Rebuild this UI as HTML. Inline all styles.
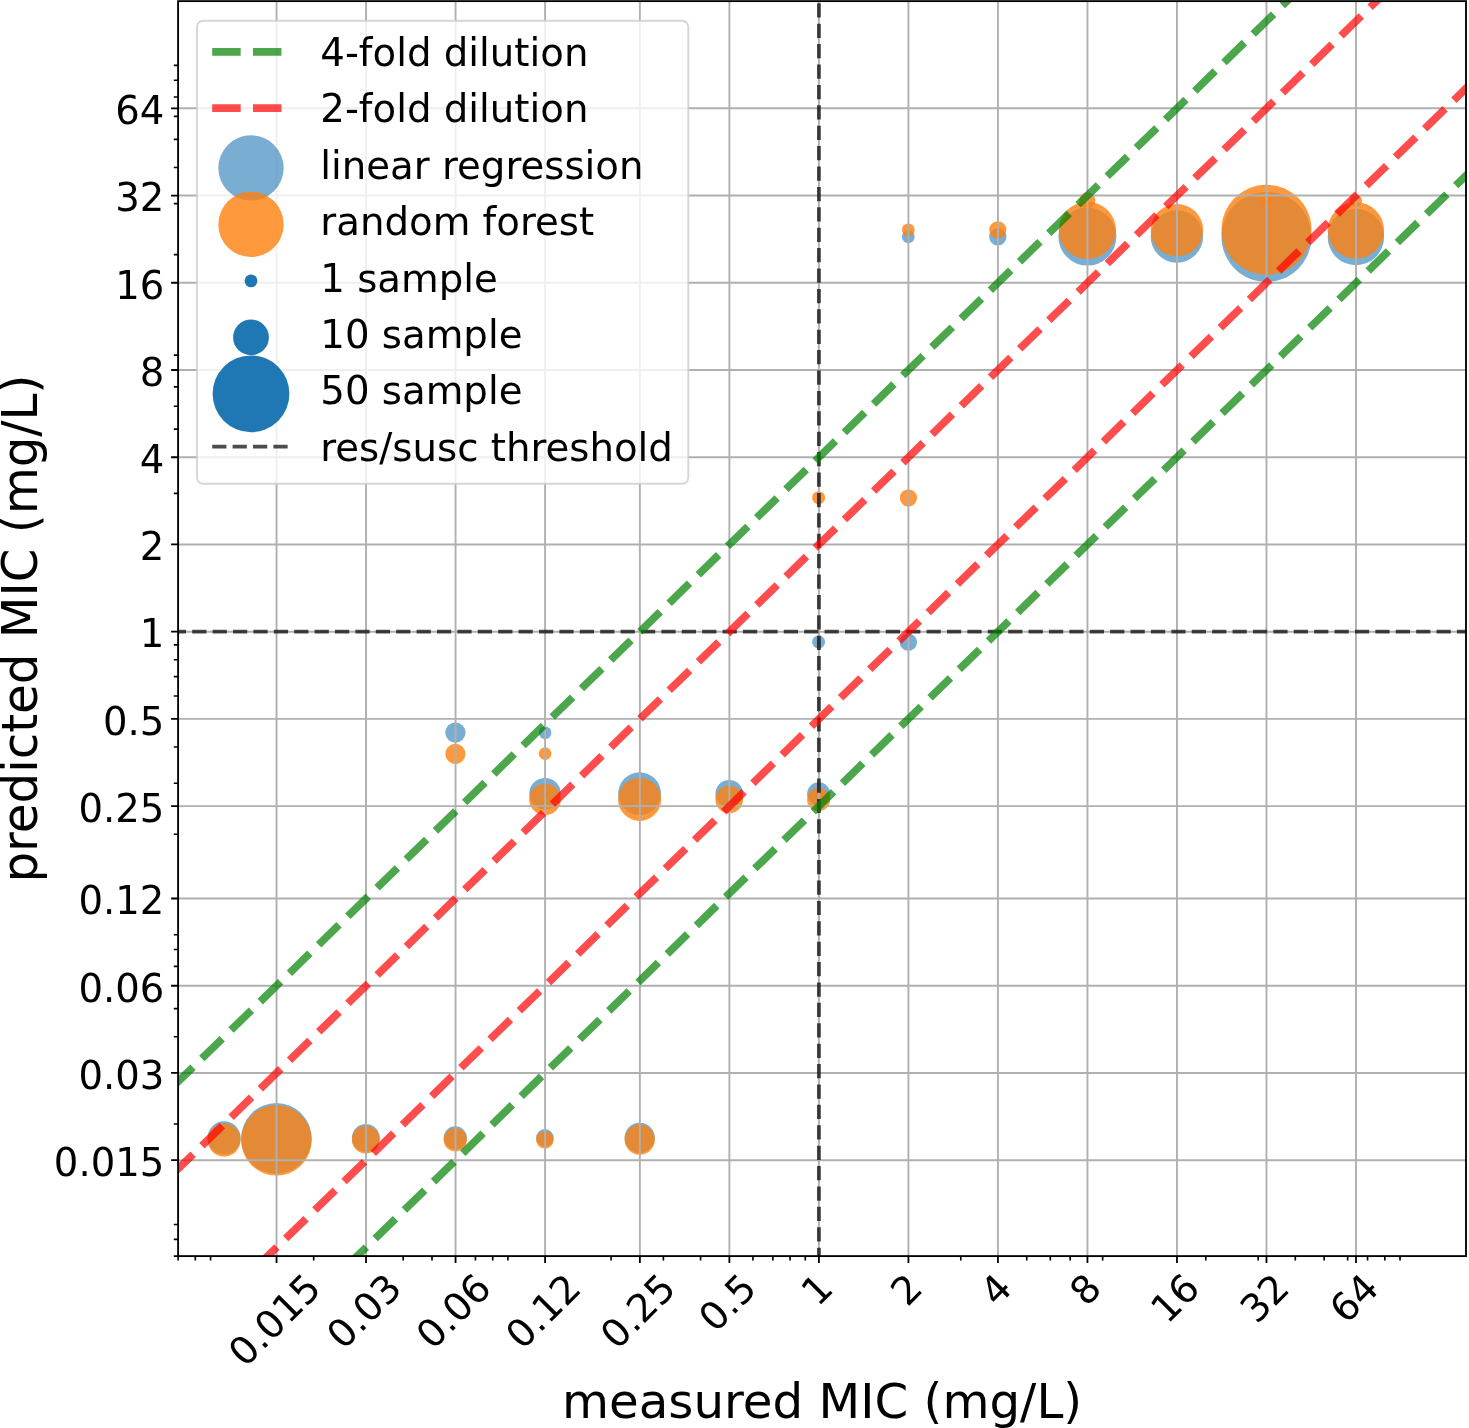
<!DOCTYPE html>
<html><head><meta charset="utf-8"><title>predicted vs measured MIC</title>
<style>
html,body{margin:0;padding:0;background:#fff;}
svg{display:block}
text{font-family:"DejaVu Sans","Liberation Sans",sans-serif;fill:#000}
</style></head><body>
<svg width="1469" height="1428" viewBox="0 0 1469 1428">
<rect width="1469" height="1428" fill="#fff"/>
<defs><clipPath id="ax"><rect x="178.1" y="1.13" width="1287.9" height="1254.9699999999998"/></clipPath></defs>

<g clip-path="url(#ax)">
<circle cx="224.10" cy="1137.80" r="16.50" fill="#1f77b4" fill-opacity="0.6"/>
<circle cx="276.40" cy="1138.40" r="35.30" fill="#1f77b4" fill-opacity="0.6"/>
<circle cx="365.80" cy="1137.90" r="13.90" fill="#1f77b4" fill-opacity="0.6"/>
<circle cx="455.30" cy="1137.90" r="11.60" fill="#1f77b4" fill-opacity="0.6"/>
<circle cx="544.90" cy="1137.90" r="8.80" fill="#1f77b4" fill-opacity="0.6"/>
<circle cx="639.70" cy="1137.90" r="15.10" fill="#1f77b4" fill-opacity="0.6"/>
<circle cx="545.00" cy="793.70" r="15.75" fill="#1f77b4" fill-opacity="0.6"/>
<circle cx="639.60" cy="793.70" r="21.40" fill="#1f77b4" fill-opacity="0.6"/>
<circle cx="729.20" cy="793.80" r="13.80" fill="#1f77b4" fill-opacity="0.6"/>
<circle cx="818.60" cy="793.80" r="11.50" fill="#1f77b4" fill-opacity="0.6"/>
<circle cx="455.40" cy="732.60" r="10.20" fill="#1f77b4" fill-opacity="0.6"/>
<circle cx="545.10" cy="732.70" r="6.30" fill="#1f77b4" fill-opacity="0.6"/>
<circle cx="818.60" cy="641.90" r="6.50" fill="#1f77b4" fill-opacity="0.6"/>
<circle cx="908.40" cy="642.20" r="8.60" fill="#1f77b4" fill-opacity="0.6"/>
<circle cx="908.30" cy="236.70" r="6.40" fill="#1f77b4" fill-opacity="0.6"/>
<circle cx="997.80" cy="236.80" r="8.60" fill="#1f77b4" fill-opacity="0.6"/>
<circle cx="1087.40" cy="236.60" r="29.00" fill="#1f77b4" fill-opacity="0.6"/>
<circle cx="1176.90" cy="236.50" r="26.20" fill="#1f77b4" fill-opacity="0.6"/>
<circle cx="1266.50" cy="236.90" r="45.00" fill="#1f77b4" fill-opacity="0.6"/>
<circle cx="1355.90" cy="237.00" r="28.20" fill="#1f77b4" fill-opacity="0.6"/>
<circle cx="224.10" cy="1140.00" r="16.50" fill="#ff7f0e" fill-opacity="0.8"/>
<circle cx="276.40" cy="1140.35" r="35.25" fill="#ff7f0e" fill-opacity="0.8"/>
<circle cx="365.80" cy="1139.70" r="13.90" fill="#ff7f0e" fill-opacity="0.8"/>
<circle cx="455.30" cy="1139.70" r="11.60" fill="#ff7f0e" fill-opacity="0.8"/>
<circle cx="544.90" cy="1139.70" r="8.80" fill="#ff7f0e" fill-opacity="0.8"/>
<circle cx="639.70" cy="1139.60" r="15.10" fill="#ff7f0e" fill-opacity="0.8"/>
<circle cx="545.00" cy="799.40" r="15.75" fill="#ff7f0e" fill-opacity="0.8"/>
<circle cx="639.60" cy="799.40" r="21.50" fill="#ff7f0e" fill-opacity="0.8"/>
<circle cx="729.20" cy="799.60" r="13.80" fill="#ff7f0e" fill-opacity="0.8"/>
<circle cx="818.60" cy="799.60" r="11.50" fill="#ff7f0e" fill-opacity="0.8"/>
<circle cx="455.40" cy="753.80" r="10.10" fill="#ff7f0e" fill-opacity="0.8"/>
<circle cx="545.10" cy="753.60" r="6.30" fill="#ff7f0e" fill-opacity="0.8"/>
<circle cx="818.60" cy="497.70" r="6.50" fill="#ff7f0e" fill-opacity="0.8"/>
<circle cx="908.40" cy="497.80" r="8.60" fill="#ff7f0e" fill-opacity="0.8"/>
<circle cx="908.30" cy="229.80" r="6.40" fill="#ff7f0e" fill-opacity="0.8"/>
<circle cx="997.80" cy="229.80" r="8.60" fill="#ff7f0e" fill-opacity="0.8"/>
<circle cx="1087.40" cy="230.30" r="28.60" fill="#ff7f0e" fill-opacity="0.8"/>
<circle cx="1176.90" cy="230.10" r="26.20" fill="#ff7f0e" fill-opacity="0.8"/>
<circle cx="1266.50" cy="229.80" r="45.00" fill="#ff7f0e" fill-opacity="0.8"/>
<circle cx="1355.90" cy="230.40" r="28.20" fill="#ff7f0e" fill-opacity="0.8"/>
<circle cx="1087.30" cy="200.40" r="8.10" fill="#ff7f0e" fill-opacity="0.8"/>
<circle cx="1266.40" cy="201.00" r="5.50" fill="#ff7f0e" fill-opacity="0.8"/>
<circle cx="1355.90" cy="200.80" r="6.10" fill="#ff7f0e" fill-opacity="0.8"/>
<path d="M276.53 1.13V1256.1 M178.1 1160.19H1466.0 M366.04 1.13V1256.1 M178.1 1072.96H1466.0 M455.56 1.13V1256.1 M178.1 985.73H1466.0 M545.08 1.13V1256.1 M178.1 898.51H1466.0 M639.87 1.13V1256.1 M178.1 806.14H1466.0 M729.38 1.13V1256.1 M178.1 718.91H1466.0 M818.90 1.13V1256.1 M178.1 631.68H1466.0 M908.42 1.13V1256.1 M178.1 544.46H1466.0 M997.93 1.13V1256.1 M178.1 457.23H1466.0 M1087.45 1.13V1256.1 M178.1 370.00H1466.0 M1176.97 1.13V1256.1 M178.1 282.77H1466.0 M1266.48 1.13V1256.1 M178.1 195.55H1466.0 M1356.00 1.13V1256.1 M178.1 108.32H1466.0" stroke="#b0b0b0" stroke-width="1.90" fill="none"/>
<line x1="151.40" y1="631.68" x2="1471.0" y2="631.68" stroke="#000" stroke-opacity="0.7" stroke-width="3.849" stroke-dasharray="14.241 6.158"/>
<line x1="818.90" y1="1261.90" x2="818.90" y2="-3.87" stroke="#000" stroke-opacity="0.7" stroke-width="3.849" stroke-dasharray="14.241 6.158"/>
<line x1="-411.50" y1="1656.17" x2="2216.99" y2="-905.11" stroke="#008000" stroke-opacity="0.7" stroke-width="7.694" stroke-dasharray="28.468 12.310"/>
<line x1="-33.72" y1="1636.96" x2="2594.77" y2="-924.32" stroke="#008000" stroke-opacity="0.7" stroke-width="7.694" stroke-dasharray="28.468 12.310"/>
<line x1="-352.97" y1="1686.37" x2="2275.52" y2="-874.92" stroke="#ff0000" stroke-opacity="0.7" stroke-width="7.694" stroke-dasharray="28.468 12.310"/>
<line x1="-123.21" y1="1636.94" x2="2505.28" y2="-924.35" stroke="#ff0000" stroke-opacity="0.7" stroke-width="7.694" stroke-dasharray="28.468 12.310"/>
</g>
<rect x="178.1" y="1.13" width="1287.9" height="1254.9699999999998" fill="none" stroke="#000" stroke-width="1.85"/>
<path d="M276.53 1256.1v7.00 M178.1 1160.19h-7.00 M366.04 1256.1v7.00 M178.1 1072.96h-7.00 M455.56 1256.1v7.00 M178.1 985.73h-7.00 M545.08 1256.1v7.00 M178.1 898.51h-7.00 M639.87 1256.1v7.00 M178.1 806.14h-7.00 M729.38 1256.1v7.00 M178.1 718.91h-7.00 M818.90 1256.1v7.00 M178.1 631.68h-7.00 M908.42 1256.1v7.00 M178.1 544.46h-7.00 M997.93 1256.1v7.00 M178.1 457.23h-7.00 M1087.45 1256.1v7.00 M178.1 370.00h-7.00 M1176.97 1256.1v7.00 M178.1 282.77h-7.00 M1266.48 1256.1v7.00 M178.1 195.55h-7.00 M1356.00 1256.1v7.00 M178.1 108.32h-7.00" stroke="#000" stroke-width="1.8" fill="none"/>
<path d="M178.10 1256.1v4.30 M178.1 1256.10h-4.30 M195.34 1256.1v4.30 M178.1 1239.30h-4.30 M210.56 1256.1v4.30 M178.1 1224.47h-4.30 M313.68 1256.1v4.30 M178.1 1123.99h-4.30 M403.20 1256.1v4.30 M178.1 1036.76h-4.30 M432.01 1256.1v4.30 M178.1 1008.68h-4.30 M475.47 1256.1v4.30 M178.1 966.34h-4.30 M492.71 1256.1v4.30 M178.1 949.53h-4.30 M507.92 1256.1v4.30 M178.1 934.71h-4.30 M611.05 1256.1v4.30 M178.1 834.22h-4.30 M663.41 1256.1v4.30 M178.1 783.20h-4.30 M700.56 1256.1v4.30 M178.1 746.99h-4.30 M752.93 1256.1v4.30 M178.1 695.97h-4.30 M772.84 1256.1v4.30 M178.1 676.57h-4.30 M790.08 1256.1v4.30 M178.1 659.77h-4.30 M805.29 1256.1v4.30 M178.1 644.94h-4.30 M960.78 1256.1v4.30 M178.1 493.43h-4.30 M1026.75 1256.1v4.30 M178.1 429.15h-4.30 M1050.30 1256.1v4.30 M178.1 406.20h-4.30 M1070.20 1256.1v4.30 M178.1 386.81h-4.30 M1102.66 1256.1v4.30 M178.1 355.18h-4.30 M1205.78 1256.1v4.30 M178.1 254.69h-4.30 M1258.15 1256.1v4.30 M178.1 203.67h-4.30 M1295.30 1256.1v4.30 M178.1 167.46h-4.30 M1324.12 1256.1v4.30 M178.1 139.38h-4.30 M1347.67 1256.1v4.30 M178.1 116.44h-4.30 M1367.57 1256.1v4.30 M178.1 97.04h-4.30 M1384.82 1256.1v4.30 M178.1 80.24h-4.30 M1400.03 1256.1v4.30 M178.1 65.41h-4.30" stroke="#000" stroke-width="1.65" fill="none"/>
<text x="164.3" y="1175.99" font-size="38.6" text-anchor="end">0.015</text>
<text x="164.3" y="1088.76" font-size="38.6" text-anchor="end">0.03</text>
<text x="164.3" y="1001.53" font-size="38.6" text-anchor="end">0.06</text>
<text x="164.3" y="914.31" font-size="38.6" text-anchor="end">0.12</text>
<text x="164.3" y="821.94" font-size="38.6" text-anchor="end">0.25</text>
<text x="164.3" y="734.71" font-size="38.6" text-anchor="end">0.5</text>
<text x="164.3" y="647.48" font-size="38.6" text-anchor="end">1</text>
<text x="164.3" y="560.26" font-size="38.6" text-anchor="end">2</text>
<text x="164.3" y="473.03" font-size="38.6" text-anchor="end">4</text>
<text x="164.3" y="385.80" font-size="38.6" text-anchor="end">8</text>
<text x="164.3" y="298.57" font-size="38.6" text-anchor="end">16</text>
<text x="164.3" y="211.35" font-size="38.6" text-anchor="end">32</text>
<text x="164.3" y="124.12" font-size="38.6" text-anchor="end">64</text>
<text transform="translate(276.53,1321.88) rotate(-45)" x="0" y="10.65" font-size="38.6" text-anchor="middle">0.015</text>
<text transform="translate(366.04,1313.20) rotate(-45)" x="0" y="10.65" font-size="38.6" text-anchor="middle">0.03</text>
<text transform="translate(455.56,1313.20) rotate(-45)" x="0" y="10.65" font-size="38.6" text-anchor="middle">0.06</text>
<text transform="translate(545.08,1313.20) rotate(-45)" x="0" y="10.65" font-size="38.6" text-anchor="middle">0.12</text>
<text transform="translate(639.87,1313.20) rotate(-45)" x="0" y="10.65" font-size="38.6" text-anchor="middle">0.25</text>
<text transform="translate(729.38,1304.51) rotate(-45)" x="0" y="10.65" font-size="38.6" text-anchor="middle">0.5</text>
<text transform="translate(818.90,1291.49) rotate(-45)" x="0" y="10.65" font-size="38.6" text-anchor="middle">1</text>
<text transform="translate(908.42,1291.49) rotate(-45)" x="0" y="10.65" font-size="38.6" text-anchor="middle">2</text>
<text transform="translate(997.93,1291.49) rotate(-45)" x="0" y="10.65" font-size="38.6" text-anchor="middle">4</text>
<text transform="translate(1087.45,1291.49) rotate(-45)" x="0" y="10.65" font-size="38.6" text-anchor="middle">8</text>
<text transform="translate(1176.97,1300.18) rotate(-45)" x="0" y="10.65" font-size="38.6" text-anchor="middle">16</text>
<text transform="translate(1266.48,1300.18) rotate(-45)" x="0" y="10.65" font-size="38.6" text-anchor="middle">32</text>
<text transform="translate(1356.00,1300.18) rotate(-45)" x="0" y="10.65" font-size="38.6" text-anchor="middle">64</text>
<text x="822.05" y="1418" font-size="48.3" text-anchor="middle">measured MIC (mg/L)</text>
<text transform="translate(37.2,628.62) scale(1.026,1) rotate(-90)" font-size="48.3" text-anchor="middle">predicted MIC (mg/L)</text>
<rect x="197.0" y="20.7" width="491.29999999999995" height="463.1" rx="6.2" ry="6.2" fill="#fff" fill-opacity="0.8" stroke="#ccc" stroke-opacity="0.8" stroke-width="1.9"/>
<line x1="212.2" y1="51.8" x2="289.4" y2="51.8" stroke="#008000" stroke-opacity="0.7" stroke-width="7.694" stroke-dasharray="28.468 12.310"/>
<line x1="212.2" y1="108.19999999999999" x2="289.4" y2="108.19999999999999" stroke="#ff0000" stroke-opacity="0.7" stroke-width="7.694" stroke-dasharray="28.468 12.310"/>
<circle cx="251.00" cy="168.00" r="32.70" fill="#1f77b4" fill-opacity="0.6"/>
<circle cx="251.00" cy="224.40" r="32.70" fill="#ff7f0e" fill-opacity="0.8"/>
<circle cx="251.00" cy="280.90" r="6.40" fill="#1f77b4" fill-opacity="1"/>
<circle cx="251.00" cy="337.30" r="17.90" fill="#1f77b4" fill-opacity="1"/>
<circle cx="251.00" cy="393.80" r="38.40" fill="#1f77b4" fill-opacity="1"/>
<line x1="212.2" y1="446.6" x2="289.4" y2="446.6" stroke="#000" stroke-opacity="0.7" stroke-width="3.849" stroke-dasharray="14.241 6.158"/>
<text x="320.28" y="66.00" font-size="38.7">4-fold dilution</text>
<text x="320.28" y="122.40" font-size="38.7">2-fold dilution</text>
<text x="320.28" y="178.80" font-size="38.7">linear regression</text>
<text x="320.28" y="235.20" font-size="38.7">random forest</text>
<text x="320.28" y="291.60" font-size="38.7">1 sample</text>
<text x="320.28" y="348.00" font-size="38.7">10 sample</text>
<text x="320.28" y="404.40" font-size="38.7">50 sample</text>
<text x="320.28" y="460.80" font-size="38.7">res/susc threshold</text>
</svg></body></html>
